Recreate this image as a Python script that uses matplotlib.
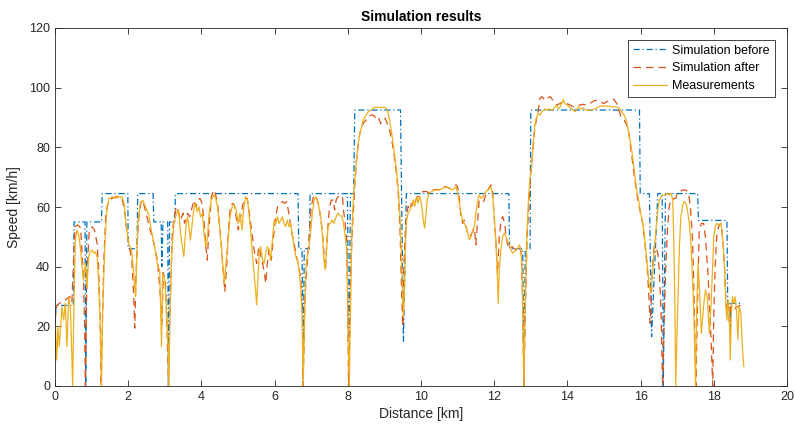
import matplotlib
matplotlib.use("Agg")
import matplotlib.pyplot as plt

plt.rcParams['font.family'] = ['Liberation Sans', 'DejaVu Sans']

# ---------------- data ----------------
before_km = [0, 0.03, 0.5, 0.52, 0.82, 0.84, 0.87, 1.27, 1.29, 1.99, 2.0, 2.24, 2.26, 2.68, 2.7,
             2.9, 2.92, 2.95, 3.08, 3.1, 3.13, 3.27, 3.29, 6.64, 6.66, 6.75, 6.78, 6.81, 6.95, 6.97,
             7.99, 8.03, 8.07, 8.16, 8.19, 9.44, 9.52, 9.6, 12.4, 12.42, 12.78, 12.81, 12.85, 12.98,
             13.0, 15.97, 15.99, 16.24, 16.3, 16.47, 16.59, 16.62, 16.68, 17.56, 17.58, 18.36, 18.38,
             18.42, 18.44, 18.47, 18.8]
before_kmh = [20, 27, 27, 55, 55, 0, 55, 55, 64.5, 64.5, 46, 46, 64.5, 64.5, 55,
              55, 40, 55, 55, 0, 55, 55, 64.5, 64.5, 46, 46, 0, 46, 46, 64.5,
              64.5, 0, 64.5, 64.5, 92.5, 92.5, 15, 64.5, 64.5, 46, 46, 0, 46, 46,
              92.5, 92.5, 64.5, 64.5, 16.5, 64.5, 64.5, 0, 64.5, 64.5, 55.5, 55.5, 27.7,
              27.7, 17.5, 27.7, 27.7]

after_km = [0.0, 0.05, 0.15, 0.3, 0.4, 0.46, 0.5, 0.55, 0.62, 0.7, 0.78, 0.81, 0.83, 0.87, 0.93,
            1.01, 1.08, 1.15, 1.19, 1.23, 1.26, 1.33, 1.39, 1.47, 1.56, 1.65, 1.74, 1.83, 1.9, 1.97,
            2.03, 2.1, 2.15, 2.18, 2.21, 2.25, 2.3, 2.36, 2.42, 2.51, 2.6, 2.7, 2.8, 2.88, 2.92,
            2.96, 3.02, 3.07, 3.1, 3.14, 3.2, 3.25, 3.32, 3.38, 3.43, 3.5, 3.54, 3.62, 3.68, 3.74,
            3.8, 3.85, 3.91, 3.96, 4.02, 4.07, 4.12, 4.16, 4.21, 4.27, 4.34, 4.38, 4.44, 4.49, 4.55,
            4.6, 4.64, 4.69, 4.74, 4.79, 4.85, 4.9, 4.95, 5.01, 5.06, 5.12, 5.18, 5.25, 5.3, 5.37,
            5.44, 5.51, 5.57, 5.63, 5.69, 5.72, 5.76, 5.8, 5.85, 5.91, 5.96, 6.03, 6.08, 6.15, 6.21,
            6.28, 6.33, 6.39, 6.44, 6.49, 6.55, 6.6, 6.66, 6.71, 6.76, 6.78, 6.83, 6.89, 6.95, 7.0,
            7.06, 7.12, 7.19, 7.24, 7.3, 7.35, 7.39, 7.44, 7.5, 7.55, 7.61, 7.64, 7.68, 7.73, 7.81,
            7.86, 7.88, 7.92, 7.97, 7.99, 8.02, 8.06, 8.11, 8.15, 8.2, 8.24, 8.29, 8.33, 8.38, 8.42,
            8.5, 8.56, 8.62, 8.7, 8.77, 8.83, 8.9, 8.95, 9.02, 9.08, 9.14, 9.2, 9.26, 9.34, 9.39,
            9.43, 9.46, 9.5, 9.53, 9.57, 9.61, 9.65, 9.7, 9.74, 9.79, 9.86, 9.92, 9.99, 10.06, 10.15,
            10.24, 10.33, 10.42, 10.5, 10.59, 10.68, 10.77, 10.86, 10.96, 11.0, 11.05, 11.09, 11.14, 11.18, 11.23,
            11.28, 11.32, 11.39, 11.46, 11.5, 11.55, 11.59, 11.66, 11.71, 11.78, 11.85, 11.91, 11.96, 12.0, 12.05,
            12.09, 12.14, 12.19, 12.23, 12.29, 12.32, 12.38, 12.43, 12.49, 12.54, 12.6, 12.65, 12.71, 12.74, 12.78,
            12.81, 12.86, 12.9, 12.95, 12.99, 13.03, 13.07, 13.11, 13.16, 13.2, 13.25, 13.3, 13.39, 13.52, 13.57,
            13.62, 13.66, 13.71, 13.8, 13.89, 13.98, 14.07, 14.16, 14.25, 14.34, 14.43, 14.52, 14.62, 14.71, 14.8,
            14.89, 14.99, 15.08, 15.17, 15.26, 15.35, 15.42, 15.48, 15.55, 15.6, 15.66, 15.71, 15.77, 15.82, 15.88,
            15.93, 15.98, 16.05, 16.1, 16.14, 16.19, 16.23, 16.26, 16.29, 16.32, 16.37, 16.42, 16.47, 16.51, 16.56,
            16.6, 16.65, 16.69, 16.74, 16.78, 16.83, 16.88, 16.92, 16.96, 17.01, 17.06, 17.15, 17.24, 17.31, 17.36,
            17.42, 17.46, 17.51, 17.55, 17.6, 17.66, 17.72, 17.77, 17.83, 17.88, 17.93, 17.97, 18.0, 18.04, 18.08,
            18.13, 18.19, 18.22, 18.26, 18.3, 18.33, 18.37, 18.4, 18.43, 18.46, 18.51, 18.56, 18.62, 18.67, 18.73,
            18.78]
after_kmh = [22, 27, 28, 29, 30, 28, 40, 53.4, 54, 53, 35.5, 18.8, 0, 35.5, 51.2,
             53.4, 52.3, 47.8, 40, 24.4, 0, 41.1, 57.9, 62.3, 62.9, 63.4, 62.9, 62.9, 59, 51.2,
             46.7, 42.2, 30, 19.4, 35.5, 48.9, 57.9, 62.3, 61.2, 56.7, 52.3, 48, 42, 30, 20,
             38, 35, 15, 0, 25, 50, 56.7, 60.1, 57.9, 55.6, 57.9, 54.5, 57.9, 56.7, 59.6,
             62.3, 60.1, 62.3, 62.9, 61.2, 55.6, 46.7, 42.2, 53.4, 63.4, 65.7, 64.6, 61.2, 54.5, 46.7,
             37.8, 31.6, 40, 52.3, 60.1, 61.2, 60.7, 56.7, 52.3, 55.6, 60.1, 62.9, 62.9, 59.0, 52.3,
             45.6, 41.1, 46.7, 43.4, 40, 37.8, 34.4, 41.1, 45.6, 42.2, 48.9, 56.7, 60.1, 61.2, 61.8,
             61.2, 61.8, 57.9, 53.4, 50.1, 46.7, 43.4, 40.0, 36.6, 24.4, 0, 29.9, 41.1, 51.2, 60.1,
             63.4, 64.0, 61.2, 57.9, 52.3, 44.5, 39.0, 51.2, 60.1, 62.3, 62.3, 59.0, 62.3, 63.4, 64.0,
             62.9, 59.0, 55.7, 49.0, 34.4, 0, 28.8, 49.0, 58.0, 69.0, 75.8, 81.4, 84.7, 86.9, 88.0,
             89.2, 90.3, 90.8, 90.8, 89.7, 90.3, 87.9, 89.2, 89.7, 88.0, 85.8, 82.5, 78.0, 70.2, 62.4,
             51.2, 36.7, 19.9, 40.0, 51.2, 58.0, 60.2, 59.1, 61.3, 60.2, 62.4, 63.5, 64.6, 65.2, 65.2,
             64.6, 65.7, 65.9, 65.7, 66.8, 66.8, 66.2, 66.8, 67.4, 66.8, 62.3, 56.8, 54.5, 55.6, 53.4,
             51.2, 50.1, 51.2, 52.9, 47.3, 55.6, 62.3, 62.3, 61.8, 64.6, 66.2, 67.4, 64.6, 56.8, 47.8,
             37.7, 50.1, 55.6, 56.8, 54.5, 50.1, 46.7, 46.1, 46.7, 46.1, 45.6, 46.7, 46.1, 44.5, 27.7,
             0, 29.9, 50.1, 61.2, 70.2, 75, 80.5, 86.4, 89.7, 91.9, 96.4, 97.0, 95.8, 97.0, 96.4,
             95.3, 94.7, 94.2, 94.7, 95.3, 94.7, 94.2, 93.6, 93.6, 94.2, 94.4, 94.2, 94.7, 95.5, 95.8,
             95.3, 94.7, 95.3, 95.8, 96.2, 94.7, 91.9, 89.7, 89.1, 88.0, 86.4, 81.9, 76, 71, 66,
             62, 59, 55, 50, 45, 38, 29.3, 21, 28, 39.1, 46.7, 46.7, 44.5, 38.9, 24.4,
             0, 24.4, 41.1, 53.4, 60.1, 62.3, 62.3, 62.9, 62.9, 64.6, 65.1, 65.7, 65.7, 64.6, 60.1,
             48.9, 29.9, 0, 24.4, 52, 54.5, 54.5, 50, 40, 28, 14, 0, 24.4, 41.1, 50.0,
             53.4, 54.5, 52.3, 46.7, 37.8, 28.8, 24.4, 26.6, 19.9, 26.6, 26.6, 25.5, 26.6, 26.6, 27.2,
             27.7]

meas_km = [0.0, 0.01, 0.046, 0.082, 0.118, 0.155, 0.191, 0.237, 0.282, 0.328, 0.373, 0.419, 0.446, 0.483, 0.51,
           0.555, 0.6, 0.65, 0.69, 0.74, 0.78, 0.83, 0.874, 0.92, 0.965, 1.01, 1.06, 1.1, 1.15, 1.19,
           1.24, 1.27, 1.3, 1.36, 1.42, 1.48, 1.56, 1.63, 1.69, 1.77, 1.83, 1.89, 1.94, 2.01, 2.09,
           2.15, 2.2, 2.23, 2.27, 2.33, 2.4, 2.47, 2.56, 2.63, 2.72, 2.81, 2.86, 2.91, 2.94, 3.0,
           3.04, 3.09, 3.11, 3.14, 3.2, 3.25, 3.32, 3.38, 3.43, 3.48, 3.52, 3.57, 3.62, 3.65, 3.7,
           3.74, 3.79, 3.83, 3.89, 3.93, 3.98, 4.03, 4.07, 4.12, 4.16, 4.21, 4.27, 4.34, 4.39, 4.44,
           4.48, 4.53, 4.58, 4.63, 4.67, 4.73, 4.78, 4.84, 4.89, 4.95, 5.0, 5.05, 5.11, 5.16, 5.21,
           5.26, 5.3, 5.35, 5.39, 5.44, 5.48, 5.51, 5.55, 5.58, 5.62, 5.67, 5.71, 5.76, 5.8, 5.85,
           5.89, 5.94, 5.99, 6.03, 6.08, 6.12, 6.17, 6.21, 6.26, 6.3, 6.35, 6.39, 6.44, 6.48, 6.53,
           6.58, 6.62, 6.67, 6.71, 6.75, 6.78, 6.82, 6.86, 6.89, 6.94, 6.99, 7.03, 7.08, 7.12, 7.17,
           7.21, 7.26, 7.3, 7.35, 7.38, 7.42, 7.46, 7.51, 7.57, 7.62, 7.68, 7.73, 7.79, 7.84, 7.88,
           7.92, 7.97, 7.99, 8.01, 8.04, 8.08, 8.11, 8.15, 8.2, 8.24, 8.29, 8.33, 8.38, 8.42, 8.5,
           8.56, 8.65, 8.74, 8.88, 9.02, 9.08, 9.14, 9.2, 9.26, 9.34, 9.39, 9.43, 9.46, 9.49, 9.52,
           9.55, 9.58, 9.61, 9.65, 9.7, 9.74, 9.79, 9.83, 9.88, 9.92, 9.97, 10.01, 10.06, 10.1, 10.13,
           10.17, 10.22, 10.29, 10.38, 10.47, 10.59, 10.68, 10.77, 10.86, 10.96, 11.0, 11.05, 11.09, 11.14, 11.18,
           11.23, 11.28, 11.32, 11.37, 11.41, 11.46, 11.5, 11.55, 11.59, 11.64, 11.69, 11.73, 11.78, 11.82, 11.87,
           11.91, 11.96, 12.0, 12.05, 12.08, 12.11, 12.14, 12.19, 12.23, 12.28, 12.32, 12.37, 12.41, 12.46, 12.5,
           12.55, 12.6, 12.64, 12.69, 12.73, 12.76, 12.78, 12.81, 12.85, 12.89, 12.94, 12.98, 13.02, 13.07, 13.11,
           13.16, 13.2, 13.25, 13.3, 13.34, 13.39, 13.43, 13.48, 13.52, 13.57, 13.62, 13.66, 13.71, 13.75, 13.8,
           13.84, 13.89, 13.93, 13.98, 14.02, 14.07, 14.12, 14.16, 14.21, 14.25, 14.3, 14.34, 14.39, 14.43, 14.48,
           14.52, 14.62, 14.71, 14.8, 14.89, 14.99, 15.08, 15.17, 15.26, 15.35, 15.42, 15.48, 15.55, 15.62, 15.67,
           15.73, 15.78, 15.84, 15.89, 15.95, 16.0, 16.05, 16.1, 16.14, 16.19, 16.23, 16.28, 16.32, 16.37, 16.42,
           16.47, 16.51, 16.56, 16.6, 16.65, 16.69, 16.74, 16.78, 16.83, 16.88, 16.91, 16.94, 16.96, 17.01, 17.06,
           17.1, 17.15, 17.19, 17.24, 17.28, 17.33, 17.38, 17.42, 17.46, 17.5, 17.53, 17.57, 17.61, 17.66, 17.72,
           17.77, 17.82, 17.88, 17.93, 17.97, 18.0, 18.04, 18.08, 18.13, 18.19, 18.22, 18.26, 18.3, 18.33, 18.36,
           18.39, 18.42, 18.45, 18.48, 18.51, 18.55, 18.58, 18.62, 18.66, 18.69, 18.74, 18.78, 18.82]
meas_kmh = [9, 21, 8.7, 19.9, 13.2, 19.9, 26.6, 22.1, 27.7, 13.2, 29.9, 26.6, 16.5, 0, 21.7,
            48.9, 52.3, 50.6, 46.7, 40.0, 35.5, 41.1, 33.0, 43.4, 45.0, 45.6, 44.5, 45.0, 43.4, 35.5,
            18.8, 0, 24.0, 46.7, 60.1, 62.9, 63.4, 62.9, 63.7, 63.2, 63.4, 61.2, 54.5, 47.8, 45.6,
            37.8, 29.9, 41.1, 55.6, 61.2, 62.3, 60.1, 57.5, 52.3, 46.7, 40.0, 38.9, 13.2, 37.8, 35.5,
            26.6, 13.2, 0, 24.4, 46.7, 54.5, 57.9, 59.0, 51.2, 46.7, 43.4, 52.3, 56.7, 54.5, 48.9,
            53.4, 59.0, 61.2, 58.4, 60.1, 56.7, 57.9, 51.2, 46.7, 48.9, 57.9, 62.3, 64.0, 62.9, 60.1,
            55.6, 48.9, 41.1, 34.4, 41.1, 48.9, 56.7, 60.1, 60.7, 59.0, 54.5, 57.9, 52.3, 60.1, 63.5,
            62.3, 57.9, 51.2, 44.5, 37.8, 32.2, 27.2, 37.8, 44.5, 46.7, 42.2, 41.1, 44.5, 46.7, 45.6,
            42.2, 48.9, 55.6, 54.5, 56.7, 54.5, 55.6, 56.7, 54.5, 53.4, 55.6, 53.4, 54.5, 51.2, 46.7,
            43.4, 42.2, 38.9, 33.3, 24.4, 0, 24.4, 40.0, 43.4, 46.7, 52.3, 57.9, 62.3, 63.4, 62.3,
            60.1, 56.7, 51.2, 42.2, 39.0, 45.6, 53.4, 54.5, 55.6, 54.5, 56.7, 57.9, 57.0, 57.0, 54.5,
            51.2, 45.6, 34.4, 17.6, 0, 28.8, 51.2, 62.4, 70.2, 76.9, 81.4, 84.7, 86.9, 89.2, 90.8,
            91.9, 92.7, 93.4, 93.4, 93.4, 92.5, 89.2, 84.7, 79.2, 71.3, 64.6, 55.7, 45.6, 33.3, 23.0,
            33.0, 49.0, 55.7, 58.0, 59.1, 60.2, 62.4, 60.2, 63.5, 61.3, 63.5, 61.3, 55.7, 52.9, 56.8,
            62.4, 64.6, 65.2, 65.7, 65.7, 66.2, 66.8, 66.2, 65.7, 66.8, 64.6, 61.2, 57.9, 55.6, 54.5,
            53.4, 51.2, 49.0, 50.1, 52.3, 53.4, 57.9, 62.3, 64.0, 62.9, 63.4, 64.6, 65.1, 65.7, 66.2,
            66.8, 63.4, 56.8, 47.8, 39.0, 27.7, 39.0, 46.7, 50.1, 51.2, 50.1, 48.4, 47.3, 45.6, 44.5,
            45.0, 45.6, 46.1, 47.3, 45.6, 39.0, 22.4, 0, 27.7, 50.1, 63.5, 70, 73, 81.9, 87.5,
            90.3, 91.4, 90.8, 91.9, 92.4, 92.9, 92.4, 92.9, 92.7, 92.4, 92.9, 93.5, 94.2, 92.9, 93.5,
            94.7, 96.0, 94.7, 94.2, 93.9, 93.3, 92.9, 92.4, 91.9, 92.7, 93.5, 93.2, 92.9, 93.2, 92.7,
            92.4, 92.4, 92.7, 93.2, 93.7, 93.9, 93.8, 93.7, 93.6, 93.5, 93.0, 91.9, 90.8, 88.6, 85.3,
            81, 77, 71, 66, 62, 58, 55, 51, 46, 40, 34.4, 31.1, 37, 45, 52.3,
            59, 62.3, 63.4, 64.0, 64.0, 64.3, 64.6, 64.0, 64.6, 62.3, 46.7, 24.4, 0, 24.4, 46.7,
            56.7, 60.7, 61.8, 61.2, 59.0, 54.5, 46.7, 35.5, 22.1, 0, 24.4, 41.1, 32.2, 17.6, 26.6,
            32.2, 30, 17.6, 28.8, 41.1, 50.0, 53.4, 54.5, 54.0, 54.5, 52.3, 46.7, 37.8, 26.6, 22.1,
            28.8, 25.5, 8.7, 24.4, 29.9, 27.7, 29.9, 25.5, 15.6, 26.6, 24.4, 13.2, 6.5]

series_names = ["Simulation before", "Simulation after", "Measurements"]
x_ticks = [0, 2, 4, 6, 8, 10, 12, 14, 16, 18, 20]
y_ticks = [0, 20, 40, 60, 80, 100, 120]

# ---------------- plot ----------------
c_blue = "#0072BD"
c_orange = "#D95319"
c_yellow = "#EDB120"
axis_col = "#262626"

fig = plt.figure(figsize=(7.95, 4.37), dpi=100)
ax = fig.add_axes([55 / 795, 1 - 386 / 437, 732 / 795, 358 / 437])

ax.plot(before_km, before_kmh, color=c_blue, lw=0.9, linestyle=(0, (5, 2.2, 1, 2.2)),
        label=series_names[0])
ax.plot(after_km, after_kmh, color=c_orange, lw=0.9, linestyle=(0, (6, 4)),
        label=series_names[1])
ax.plot(meas_km, meas_kmh, color=c_yellow, lw=0.9, linestyle="-",
        label=series_names[2])

ax.set_xlim(0, 20)
ax.set_ylim(0, 120)
ax.set_xticks(x_ticks)
ax.set_yticks(y_ticks)
ax.tick_params(direction="in", length=4, width=0.6, colors=axis_col, labelsize=9,
               top=True, right=True)
for s in ax.spines.values():
    s.set_color(axis_col)
    s.set_linewidth(0.6)

ax.set_title("Simulation results", fontsize=10, fontweight="bold", color="black", pad=5)
ax.set_xlabel("Distance [km]", fontsize=10, color=axis_col, labelpad=3)
ax.set_ylabel("Speed [km/h]", fontsize=10, color=axis_col, labelpad=6)

leg = ax.legend(loc="upper right", bbox_to_anchor=(0.983, 0.967), fontsize=9,
                frameon=True, fancybox=False, edgecolor=axis_col, framealpha=1,
                handlelength=2.7, handletextpad=0.4, borderpad=0.4, labelspacing=0.45,
                borderaxespad=0)
leg.get_frame().set_linewidth(0.6)

fig.savefig("out.png", dpi=100)
